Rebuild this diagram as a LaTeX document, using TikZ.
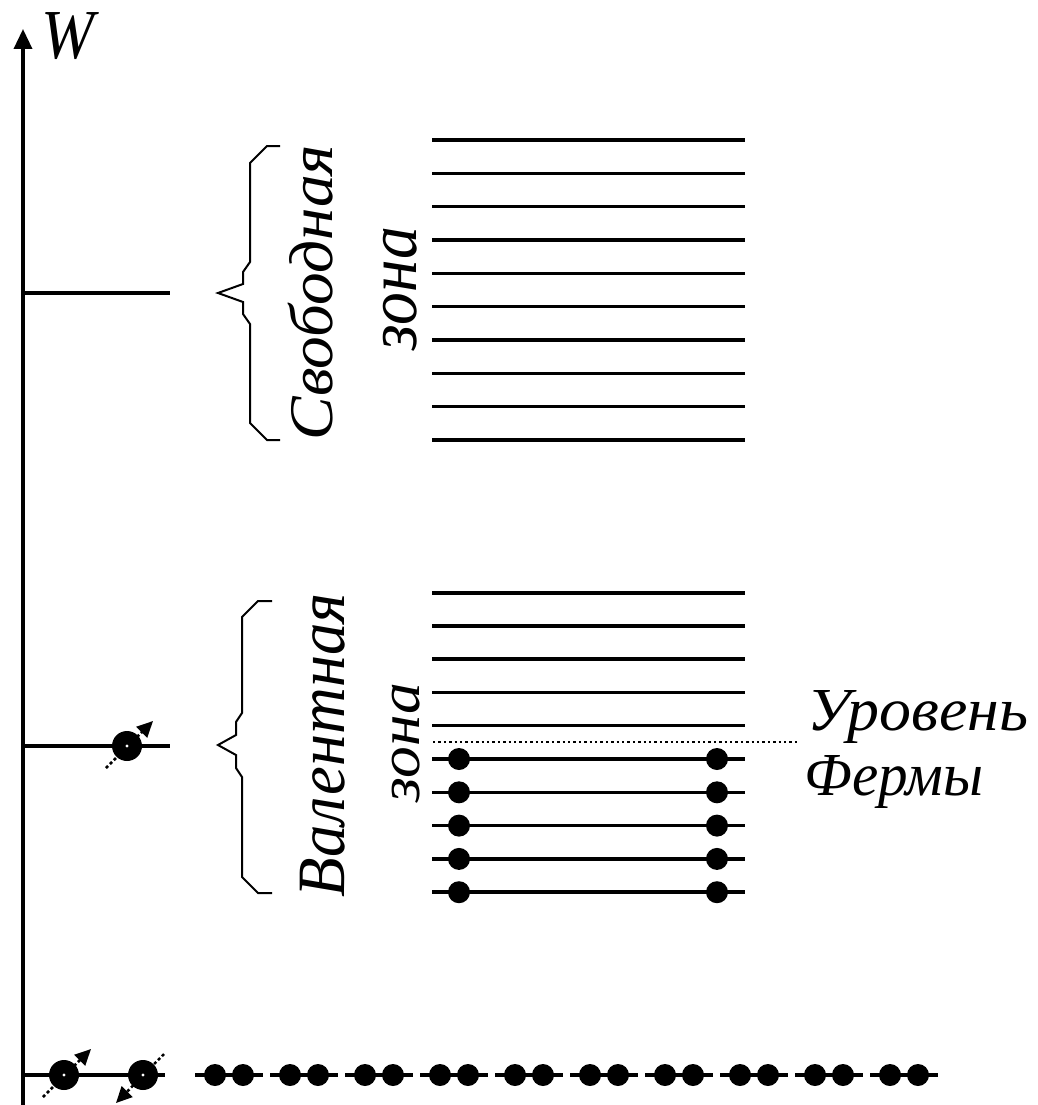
\documentclass[tikz,border=0pt]{standalone}
\usepackage{fontspec}
\setmainfont{Liberation Serif}
\usepackage{graphicx}
\usetikzlibrary{arrows.meta}
\newcommand\fitlbl[3]{\resizebox*{#1}{#2}{\itshape #3}}
\begin{document}
\begin{tikzpicture}[x=1pt,y=-1pt,
  level/.style={line width=3.5pt},
  axisline/.style={line width=3.5pt,-{Triangle[length=20pt,width=18pt]}},
  bracepath/.style={line width=2pt},
  elec/.style={circle,fill=black,inner sep=0pt,minimum size=22pt},
  spinel/.style={circle,fill=black,inner sep=0pt,minimum size=30pt,
    path picture={\fill[white] (path picture bounding box.center) circle (1.6pt);}},
  spin/.style={line width=2.5pt,dash pattern=on 3pt off 2.5pt,-{Triangle[length=16pt,width=15pt]}},
  fermi/.style={line width=2.6pt,dash pattern=on 2.4pt off 3pt},
  lbl/.style={inner sep=0pt,anchor=center}
]
\useasboundingbox[fill=white] (0,0) rectangle (1037,1105);

% axis
\coordinate (axb) at (23,1105);
\coordinate (axt) at (23,29);
\draw[axisline] (axb) -- (axt);
\node[lbl] (W) at (68.5,36.5) {\fitlbl{53pt}{47pt}{W}};

% atomic levels at left
\coordinate (a1s) at (23,293);  \coordinate (a1e) at (170,293);
\coordinate (a2s) at (23,746);  \coordinate (a2e) at (170,746);
\coordinate (a3s) at (23,1075); \coordinate (a3e) at (165,1075);
\draw[level] (a1s) -- (a1e);
\draw[level] (a2s) -- (a2e);
\draw[level] (a3s) -- (a3e);

% spin electrons
\coordinate (s1a) at (106,768); \coordinate (s1b) at (153,721);
\draw[spin] (s1a) -- (s1b);
\node[spinel] (e1) at (127,746) {};
\coordinate (s2a) at (43,1097); \coordinate (s2b) at (91,1049);
\draw[spin] (s2a) -- (s2b);
\node[spinel] (e2) at (64,1075) {};
\coordinate (s3a) at (164,1054); \coordinate (s3b) at (116,1103);
\draw[spin] (s3a) -- (s3b);
\node[spinel] (e3) at (143,1075) {};

% free zone
\foreach \k in {0,...,9}{
  \coordinate (f\k s) at (432,140+33.33*\k);
  \coordinate (f\k e) at (745,140+33.33*\k);
  \draw[level] (f\k s) -- (f\k e);
}
% valence zone, empty levels
\foreach \k in {0,...,4}{
  \coordinate (v\k s) at (432,593+33.1*\k);
  \coordinate (v\k e) at (745,593+33.1*\k);
  \draw[level] (v\k s) -- (v\k e);
}
% Fermi level
\coordinate (fs) at (433,742);
\coordinate (fe) at (800,742);
\draw[fermi] (fs) -- (fe);
% filled levels
\foreach \k in {0,...,4}{
  \coordinate (o\k s) at (432,759+33.3*\k);
  \coordinate (o\k e) at (745,759+33.3*\k);
  \draw[level] (o\k s) -- (o\k e);
  \node[elec] (ol\k) at (459,759+33.3*\k) {};
  \node[elec] (or\k) at (717,759+33.3*\k) {};
}

% bottom row of electron pairs
\foreach \i in {0,...,9}{
  \coordinate (p\i s) at (195+75*\i,1075);
  \coordinate (p\i e) at (263+75*\i,1075);
  \draw[level] (p\i s) -- (p\i e);
  \node[elec] (pa\i) at (215+75*\i,1075) {};
  \node[elec] (pb\i) at (243+75*\i,1075) {};
}

% braces
\draw[bracepath] (280,146) -- (267,146) -- (250,163) -- (250,262) -- (243,272) -- (243,284) -- (218,293)
  -- (243,302) -- (243,314) -- (250,324) -- (250,423) -- (267,440) -- (280,440);
\draw[bracepath] (272,601) -- (258,601) -- (242,617) -- (242,713) -- (236,722) -- (236,735) -- (218,745)
  -- (236,755) -- (236,768) -- (242,777) -- (242,877) -- (258,893) -- (272,893);

% labels
\node[lbl,rotate=90] (tfree) at (310.5,292.5) {\fitlbl{295pt}{45pt}{Свободная}};
\node[lbl,rotate=90] (tz1) at (400,288.5) {\fitlbl{123pt}{34pt}{зона}};
\node[lbl,rotate=90] (tval) at (322.5,745) {\fitlbl{304pt}{45pt}{Валентная}};
\node[lbl,rotate=90] (tz2) at (406,742.5) {\fitlbl{119pt}{28pt}{зона}};
\node[lbl] (tlev) at (918,716.5) {\fitlbl{221pt}{53pt}{Уровень}};
\node[lbl] (tfer) at (894,781.5) {\fitlbl{178pt}{53pt}{Фермы}};
\end{tikzpicture}
\end{document}
